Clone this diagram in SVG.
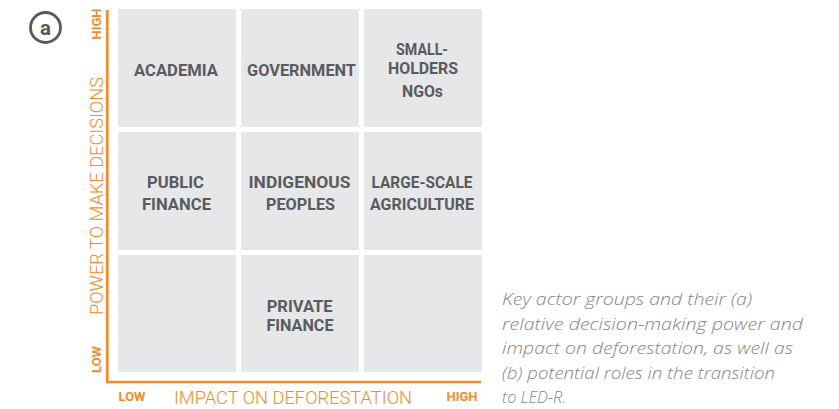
<svg xmlns="http://www.w3.org/2000/svg" width="839" height="409" viewBox="0 0 839 409">
<style>
.cell{fill:#E6E7E8}
.lbl{font-family:Roboto,"Liberation Sans",sans-serif;font-weight:700;font-size:16.6px;fill:#5A5B5D;text-anchor:middle}
.ax{stroke:#F28B2C;stroke-width:2.7;fill:none}
.tick{font-family:Roboto,"Liberation Sans",sans-serif;font-weight:700;font-size:13px;fill:#F28B2C;text-anchor:middle}
.title{font-family:Roboto,"Liberation Sans",sans-serif;font-weight:300;font-size:19px;fill:#F28B2C;text-anchor:middle}
.cap{font-family:"Open Sans","Liberation Sans",sans-serif;font-weight:300;font-style:italic;font-size:17px;fill:#858585}
</style>
<rect width="839" height="409" fill="#FFFFFF"/>
<g id="badge">
<circle cx="45.5" cy="27.5" r="15" fill="none" stroke="#58595B" stroke-width="2.8"/>
<text x="45.5" y="34.5" font-family="Roboto,'Liberation Sans',sans-serif" font-weight="700" font-size="20.5" fill="#58595B" text-anchor="middle">a</text>
</g>
<g id="cell-academia"><rect class="cell" x="118" y="9" width="118" height="118"/><text class="lbl" x="176" y="75.5" textLength="84" lengthAdjust="spacingAndGlyphs">ACADEMIA</text></g>
<g id="cell-government"><rect class="cell" x="241" y="9" width="118" height="118"/><text class="lbl" x="301.5" y="75.5" textLength="109" lengthAdjust="spacingAndGlyphs">GOVERNMENT</text></g>
<g id="cell-smallholders"><rect class="cell" x="364" y="9" width="118" height="118"/><text class="lbl" x="422" y="55" textLength="52" lengthAdjust="spacingAndGlyphs">SMALL-</text><text class="lbl" x="423" y="74" textLength="70" lengthAdjust="spacingAndGlyphs">HOLDERS</text><text class="lbl" x="422.5" y="97" textLength="41" lengthAdjust="spacingAndGlyphs">NGOs</text></g>
<g id="cell-public-finance"><rect class="cell" x="118" y="132" width="118" height="118"/><text class="lbl" x="175.5" y="188" textLength="57" lengthAdjust="spacingAndGlyphs">PUBLIC</text><text class="lbl" x="176.5" y="210" textLength="69" lengthAdjust="spacingAndGlyphs">FINANCE</text></g>
<g id="cell-indigenous"><rect class="cell" x="241" y="132" width="118" height="118"/><text class="lbl" x="299.5" y="188" textLength="102" lengthAdjust="spacingAndGlyphs">INDIGENOUS</text><text class="lbl" x="300.5" y="210" textLength="69" lengthAdjust="spacingAndGlyphs">PEOPLES</text></g>
<g id="cell-large-scale"><rect class="cell" x="364" y="132" width="118" height="118"/><text class="lbl" x="422" y="188" textLength="101" lengthAdjust="spacingAndGlyphs">LARGE-SCALE</text><text class="lbl" x="422" y="210" textLength="104" lengthAdjust="spacingAndGlyphs">AGRICULTURE</text></g>
<g id="cell-empty-1"><rect class="cell" x="118" y="255" width="118" height="117"/></g>
<g id="cell-private-finance"><rect class="cell" x="241" y="255" width="118" height="117"/><text class="lbl" x="299.7" y="311.5" textLength="66" lengthAdjust="spacingAndGlyphs">PRIVATE</text><text class="lbl" x="300" y="331" textLength="67" lengthAdjust="spacingAndGlyphs">FINANCE</text></g>
<g id="cell-empty-2"><rect class="cell" x="364" y="255" width="118" height="117"/></g>
<g id="axes">
<path class="ax" d="M107.3 10 V382 H481"/>
<text class="tick" transform="translate(100.7,24) rotate(-90)">HIGH</text>
<text class="tick" transform="translate(100.7,359.5) rotate(-90)">LOW</text>
<text class="title" transform="translate(103,196) rotate(-90)" textLength="238" lengthAdjust="spacingAndGlyphs">POWER TO MAKE DECISIONS</text>
<text class="tick" x="132" y="401">LOW</text>
<text class="tick" x="462" y="401">HIGH</text>
<text class="title" x="293" y="404" textLength="238" lengthAdjust="spacingAndGlyphs">IMPACT ON DEFORESTATION</text>
</g>
<g id="caption">
<text class="cap" x="502" y="305" textLength="250" lengthAdjust="spacingAndGlyphs">Key actor groups and their (a)</text>
<text class="cap" x="502" y="329.5" textLength="301" lengthAdjust="spacingAndGlyphs">relative decision-making power and</text>
<text class="cap" x="502" y="354" textLength="291" lengthAdjust="spacingAndGlyphs">impact on deforestation, as well as</text>
<text class="cap" x="502" y="378.5" textLength="273" lengthAdjust="spacingAndGlyphs">(b) potential roles in the transition</text>
<text class="cap" x="502" y="403" textLength="64" lengthAdjust="spacingAndGlyphs">to LED-R.</text>
</g>
</svg>
